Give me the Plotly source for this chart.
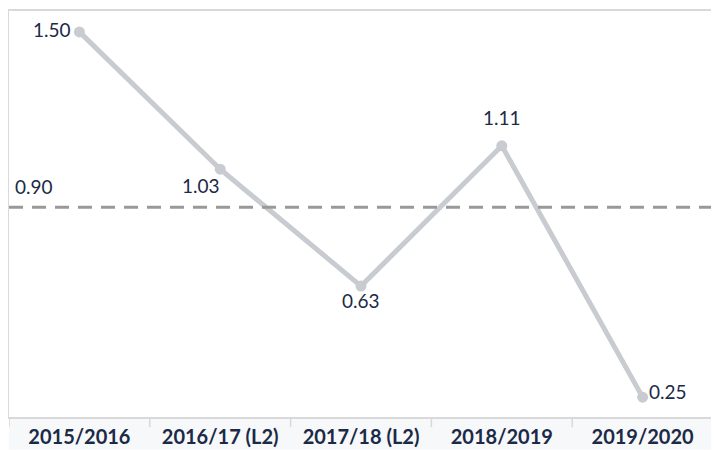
import plotly.graph_objects as go

categories = ["2015/2016", "2016/17 (L2)", "2017/18 (L2)", "2018/2019", "2019/2020"]
values = [1.50, 1.03, 0.63, 1.11, 0.25]
average_value = 0.90
average_label = "0.90"

navy = "#1b2a47"
label_font = dict(family="Lato", size=19, color=navy)

fig = go.Figure()
fig.add_trace(go.Scatter(
    x=list(range(len(categories))), y=values,
    mode="lines+markers",
    line=dict(color="#c8cbd0", width=5),
    marker=dict(color="#c8cbd0", size=11),
    cliponaxis=False,
    hoverinfo="skip",
))

# value labels placed relative to each data point
label_style = [
    dict(xanchor="right", yanchor="middle", xshift=-6, yshift=2),
    dict(xanchor="right", yanchor="top", xshift=2, yshift=-3),
    dict(xanchor="center", yanchor="top", xshift=0, yshift=-1),
    dict(xanchor="center", yanchor="bottom", xshift=0, yshift=15),
    dict(xanchor="left", yanchor="middle", xshift=4, yshift=6),
]
for i, (v, st) in enumerate(zip(values, label_style)):
    fig.add_annotation(x=i, y=v, xref="x", yref="y", text=f"{v:.2f}", showarrow=False,
                       font=label_font, **st)

# average dashed line
fig.add_shape(type="line", xref="paper", yref="y", x0=0, x1=1, y0=average_value, y1=average_value,
              line=dict(color="#999999", width=3, dash="14px,9px"))
fig.add_annotation(xref="paper", yref="y", x=0.005, y=average_value, text=average_label,
                   showarrow=False, xanchor="left", yanchor="bottom", yshift=7,
                   font=label_font)

# category label band and separators
fig.add_shape(type="rect", xref="paper", yref="paper", x0=0, x1=1, y0=-0.08, y1=0,
              fillcolor="#f7f8fa", line=dict(width=0), layer="below")
for i in range(len(categories) + 1):
    fig.add_shape(type="line", xref="x", yref="paper", x0=i - 0.5, x1=i - 0.5, y0=0, y1=-0.025,
                  line=dict(color="#d9d9d9", width=1.5))

fig.update_layout(
    width=719, height=450,
    margin=dict(l=1, r=14, t=1, b=41),
    paper_bgcolor="white", plot_bgcolor="white",
    showlegend=False,
    xaxis=dict(range=[-0.5, 4.5], tickvals=list(range(len(categories))), ticktext=categories,
               showgrid=False, zeroline=False, showline=True, linecolor="#d9d9d9", linewidth=2,
               mirror=True, ticks="", ticklabelstandoff=1,
               tickfont=dict(family="Lato", size=20, color=navy, weight="bold")),
    yaxis=dict(range=[0.182, 1.5715], showgrid=False, zeroline=False, showticklabels=False,
               showline=True, linecolor="#d9d9d9", linewidth=2, mirror=True, ticks=""),
)

fig.write_html("out.html")
